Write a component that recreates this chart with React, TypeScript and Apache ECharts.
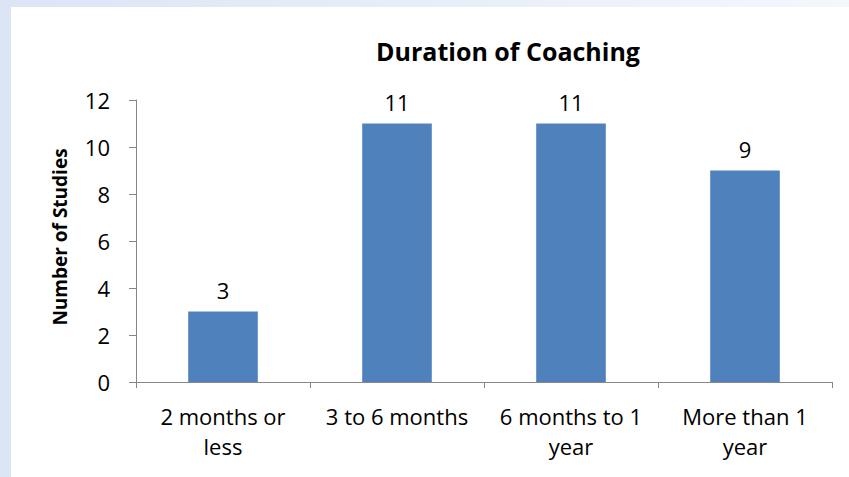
import React, { useEffect, useRef } from "react";
import * as echarts from "echarts";

const categories = ["2 months or\nless", "3 to 6 months", "6 months to 1\nyear", "More than 1\nyear"];
const values = [3, 11, 11, 9];
const yTicks = { min: 0, max: 12, interval: 2 };

export default function App() {
  const ref = useRef<HTMLDivElement>(null);
  useEffect(() => {
    if (!ref.current) return;
    const chart = echarts.init(ref.current, null, { renderer: "svg" });
    const font = "Open Sans, Noto Sans, sans-serif";
    chart.setOption({
      animation: false,
      title: {
        text: "Duration of Coaching",
        left: 492,
        textAlign: "center",
        top: 26,
        textStyle: { fontFamily: font, fontSize: 25, fontWeight: "bold", color: "#000" },
      },
      grid: { left: 125, right: 17, top: 93, bottom: 95, containLabel: false },
      xAxis: {
        type: "category",
        data: categories,
        axisLine: { lineStyle: { color: "#868686", width: 1 } },
        axisTick: { show: true, length: 6, lineStyle: { color: "#868686" }, alignWithLabel: false },
        axisLabel: {
          fontFamily: font,
          fontSize: 22,
          color: "#000",
          lineHeight: 30,
          margin: 19,
          interval: 0,
        },
      },
      yAxis: {
        type: "value",
        min: yTicks.min,
        max: yTicks.max,
        interval: yTicks.interval,
        name: "Number of Studies",
        nameLocation: "middle",
        nameGap: 67,
        nameTextStyle: { fontFamily: font, fontSize: 19, fontWeight: "bold", color: "#000", padding: [0, 0, 0, 8] },
        axisLine: { show: true, lineStyle: { color: "#868686", width: 1 } },
        axisTick: { show: true, length: 7, lineStyle: { color: "#868686" } },
        splitLine: { show: false },
        axisLabel: { fontFamily: font, fontSize: 22, color: "#000", margin: 26 },
      },
      series: [
        {
          type: "bar",
          data: values,
          barWidth: "40%",
          itemStyle: { color: "#4F81BD" },
          label: {
            show: true,
            position: "top",
            distance: 11,
            fontFamily: font,
            fontSize: 22,
            color: "#000",
          },
        },
      ],
    });
    return () => chart.dispose();
  }, []);
  return (
    <div
      style={{
        position: "fixed",
        left: 0,
        top: 0,
        width: 849,
        height: 477,
        background: "linear-gradient(to right, #dbe5f6, #f4f7fc)",
      }}
    >
      <div
        style={{
          position: "absolute",
          left: 11,
          top: 7,
          width: 838,
          height: 470,
          background: "#fff",
        }}
      >
        <div ref={ref} style={{ width: 838, height: 470 }} />
      </div>
    </div>
  );
}
